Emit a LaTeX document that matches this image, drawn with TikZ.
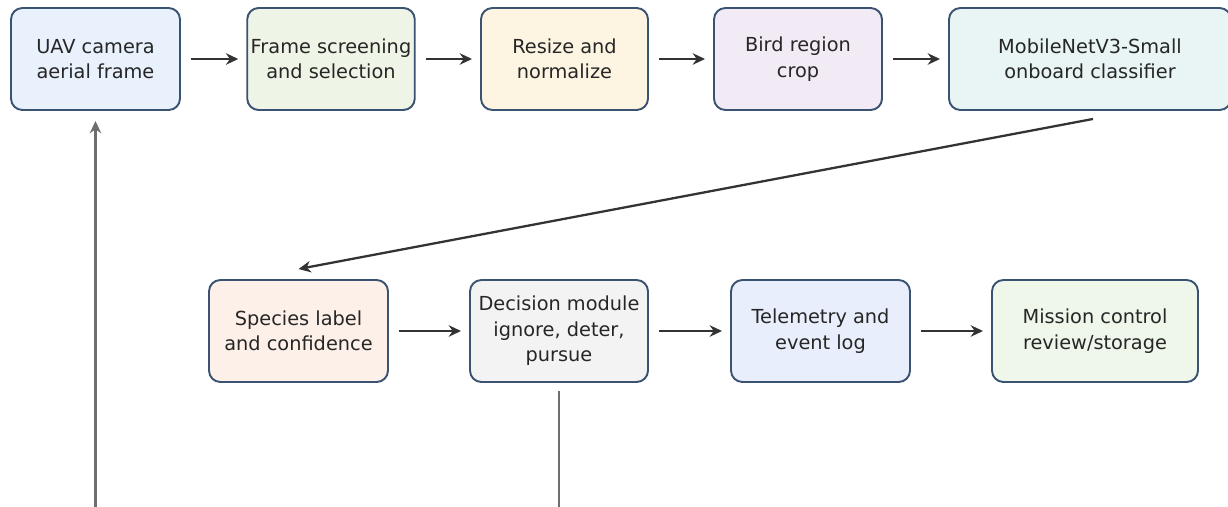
\documentclass[tikz,border=0pt]{standalone}
\usepackage{fontspec}
\setmainfont{DejaVu Sans}
\usepackage{tikz}
\usetikzlibrary{arrows.meta,positioning,calc}
\usepackage{xcolor}
\definecolor{edge}{HTML}{3B5373}
\definecolor{flow}{HTML}{333333}
\definecolor{loopgray}{HTML}{6E6E6E}
\definecolor{camfill}{HTML}{E8F1FC}
\definecolor{screenfill}{HTML}{EEF4E6}
\definecolor{resizefill}{HTML}{FDF5E2}
\definecolor{cropfill}{HTML}{F2EAF5}
\definecolor{clsfill}{HTML}{E9F5F5}
\definecolor{speciesfill}{HTML}{FDF0E8}
\definecolor{decfill}{HTML}{F3F3F3}
\definecolor{telefill}{HTML}{E8EEFB}
\definecolor{missionfill}{HTML}{EEF7EA}

\tikzset{
  stage/.style={draw=edge, line width=1.1pt, rounded corners=6.5pt, align=center,
    minimum height=2.04cm, inner sep=2pt, font=\fontsize{11}{14.5}\selectfont, text=black!85},
  flowarrow/.style={draw=flow, line width=1.3pt, -{Stealth[length=7pt,width=6.5pt]},
    shorten <=0.2cm, shorten >=0.16cm},
  loopline/.style={draw=loopgray, line width=1.3pt}
}

\begin{document}
\begin{tikzpicture}
  \useasboundingbox (0,0) rectangle (24.56,10.12);
  % top row
  \node[stage, fill=camfill, minimum width=3.38cm] (camframe) at (1.91,8.94) {UAV camera\\aerial frame};
  \node[stage, fill=screenfill, minimum width=3.32cm] (screen) at (6.62,8.94) {Frame screening\\and selection};
  \node[stage, fill=resizefill, minimum width=3.34cm] (resize) at (11.29,8.94) {Resize and\\normalize};
  \node[stage, fill=cropfill, minimum width=3.36cm] (birdcrop) at (15.96,8.94) {Bird region\\crop};
  \node[stage, fill=clsfill, minimum width=5.64cm] (classifier) at (21.80,8.94) {MobileNetV3-Small\\onboard classifier};
  % bottom row
  \node[stage, fill=speciesfill, minimum width=3.58cm] (species) at (5.97,3.50) {Species label\\and confidence};
  \node[stage, fill=decfill, minimum width=3.56cm] (decision) at (11.18,3.50) {Decision module\\ignore, deter,\\pursue};
  \node[stage, fill=telefill, minimum width=3.58cm] (telemetry) at (16.41,3.50) {Telemetry and\\event log};
  \node[stage, fill=missionfill, minimum width=4.12cm] (mission) at (21.90,3.50) {Mission control\\review/storage};

  \draw[flowarrow] (camframe) -- (screen);
  \draw[flowarrow] (screen) -- (resize);
  \draw[flowarrow] (resize) -- (birdcrop);
  \draw[flowarrow] (birdcrop) -- (classifier);
  \draw[flowarrow, shorten <=0pt, shorten >=0pt] ($(classifier.south)+(0.06,-0.16)$) -- ($(species.north)+(0,0.2)$);
  \draw[flowarrow] (species) -- (decision);
  \draw[flowarrow] (decision) -- (telemetry);
  \draw[flowarrow] (telemetry) -- (mission);

  % feedback lines running off the bottom
  \coordinate (feedin) at (1.91,-0.6);
  \coordinate (decout) at (11.18,-0.6);
  \draw[loopline, -{Stealth[length=7pt,width=6.5pt]}, shorten >=0.2cm] (feedin) -- (camframe.south);
  \draw[loopline, shorten <=0.16cm] (decision.south) -- (decout);
\end{tikzpicture}
\end{document}
